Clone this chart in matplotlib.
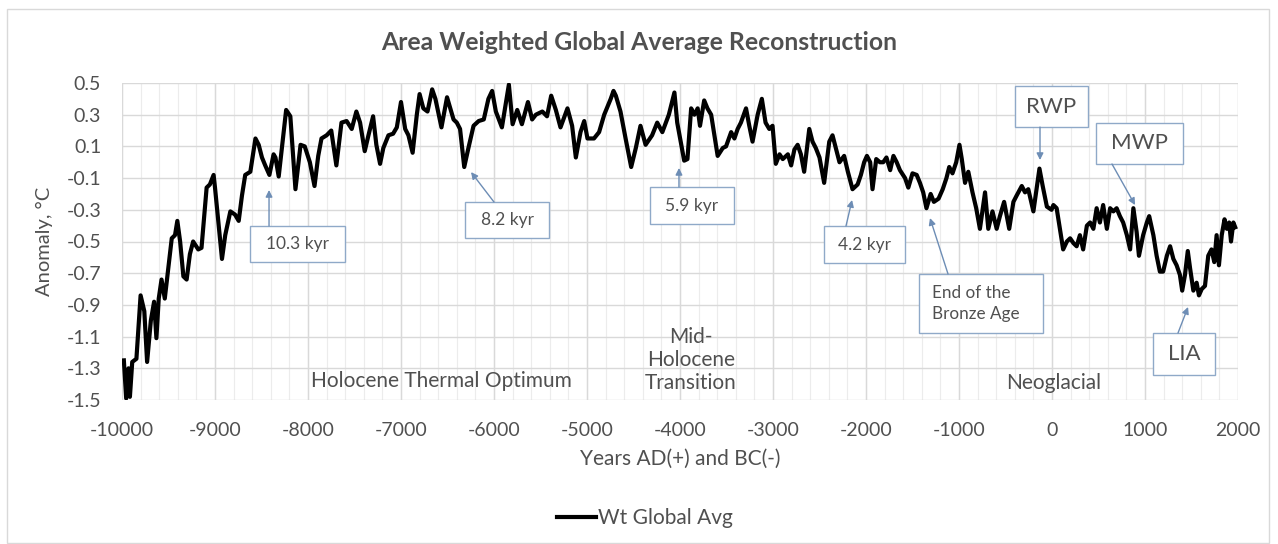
import matplotlib
matplotlib.use("Agg")
import matplotlib.pyplot as plt
import matplotlib.patches as mpatches

# ---- data ----
years = [
    -9980, -9955, -9930, -9915, -9890, -9845, -9800, -9760, -9730, -9690,
    -9655, -9630, -9605, -9575, -9540, -9465, -9430, -9405, -9375, -9340,
    -9305, -9270, -9235, -9180, -9145, -9090, -9055, -9015, -9000, -8965,
    -8925, -8890, -8835, -8785, -8745, -8710, -8675, -8620, -8565, -8530,
    -8495, -8460, -8415, -8370, -8350, -8315, -8235, -8190, -8135, -8080,
    -8035, -7980, -7930, -7890, -7855, -7800, -7750, -7695, -7640, -7585,
    -7530, -7480, -7440, -7390, -7350, -7300, -7265, -7225, -7190, -7135,
    -7085, -7045, -7000, -6955, -6920, -6875, -6830, -6800, -6760, -6715,
    -6665, -6630, -6565, -6505, -6470, -6435, -6400, -6365, -6320, -6275,
    -6220, -6165, -6110, -6060, -6020, -5980, -5915, -5840, -5800, -5750,
    -5700, -5635, -5590, -5550, -5480, -5430, -5385, -5335, -5285, -5210,
    -5160, -5120, -5070, -5030, -4995, -4925, -4870, -4815, -4745, -4715,
    -4690, -4640, -4585, -4525, -4475, -4425, -4370, -4300, -4245, -4190,
    -4120, -4060, -4030, -3990, -3955, -3920, -3880, -3845, -3810, -3785,
    -3740, -3705, -3665, -3630, -3595, -3540, -3505, -3450, -3415, -3380,
    -3345, -3290, -3255, -3220, -3165, -3120, -3080, -3040, -3005, -2970,
    -2930, -2895, -2840, -2805, -2770, -2735, -2700, -2665, -2610, -2575,
    -2540, -2500, -2450, -2395, -2360, -2325, -2285, -2235, -2195, -2145,
    -2090, -2055, -2020, -1990, -1955, -1930, -1890, -1850, -1815, -1780,
    -1740, -1705, -1670, -1635, -1580, -1545, -1500, -1455, -1420, -1385,
    -1350, -1305, -1270, -1220, -1175, -1135, -1105, -1070, -1030, -995,
    -970, -935, -900, -855, -815, -775, -720, -685, -640, -595,
    -560, -515, -460, -415, -380, -325, -290, -255, -200, -135,
    -100, -55, -5, 15, 50, 85, 120, 160, 195, 230,
    265, 300, 335, 375, 410, 445, 480, 515, 550, 590,
    625, 660, 695, 730, 765, 805, 840, 875, 910, 935,
    980, 1020, 1045, 1090, 1125, 1160, 1195, 1235, 1270, 1305,
    1340, 1375, 1400, 1430, 1460, 1485, 1520, 1555, 1580, 1610,
    1645, 1680, 1715, 1745, 1770, 1795, 1825, 1855, 1880, 1905,
    1925, 1950, 1970,
]
anomaly = [
    -1.25, -1.49, -1.30, -1.48, -1.26, -1.24, -0.84, -0.94, -1.26, -1.00,
    -0.88, -1.11, -0.86, -0.74, -0.86, -0.48, -0.46, -0.37, -0.50, -0.72,
    -0.74, -0.58, -0.50, -0.55, -0.54, -0.16, -0.14, -0.08, -0.16, -0.37,
    -0.61, -0.46, -0.31, -0.33, -0.37, -0.21, -0.08, -0.06, 0.15, 0.11,
    0.03, -0.02, -0.08, 0.05, 0.03, -0.09, 0.33, 0.29, -0.17, 0.11,
    0.10, 0.00, -0.15, 0.04, 0.15, 0.17, 0.20, -0.02, 0.25, 0.26,
    0.21, 0.32, 0.25, 0.07, 0.17, 0.29, 0.11, -0.01, 0.09, 0.17,
    0.18, 0.22, 0.38, 0.21, 0.17, 0.06, 0.30, 0.43, 0.34, 0.32,
    0.46, 0.40, 0.22, 0.41, 0.34, 0.27, 0.25, 0.21, -0.03, 0.09,
    0.23, 0.26, 0.27, 0.40, 0.45, 0.32, 0.22, 0.49, 0.24, 0.33,
    0.24, 0.38, 0.27, 0.30, 0.32, 0.29, 0.42, 0.33, 0.22, 0.34,
    0.23, 0.03, 0.19, 0.26, 0.15, 0.15, 0.19, 0.30, 0.40, 0.45,
    0.42, 0.32, 0.15, -0.03, 0.09, 0.23, 0.11, 0.17, 0.25, 0.19,
    0.30, 0.44, 0.25, 0.12, 0.01, 0.02, 0.34, 0.30, 0.34, 0.23,
    0.39, 0.34, 0.30, 0.17, 0.04, 0.09, 0.10, 0.19, 0.15, 0.21,
    0.25, 0.34, 0.23, 0.13, 0.30, 0.40, 0.25, 0.21, 0.23, -0.01,
    0.05, 0.02, 0.05, -0.02, 0.08, 0.11, 0.05, -0.06, 0.21, 0.13,
    0.09, 0.03, -0.13, 0.13, 0.17, 0.09, 0.00, 0.04, -0.06, -0.17,
    -0.14, -0.08, 0.00, 0.04, 0.00, -0.17, 0.02, 0.00, 0.00, 0.03,
    -0.05, 0.04, 0.00, -0.05, -0.10, -0.16, -0.07, -0.08, -0.13, -0.19,
    -0.29, -0.20, -0.25, -0.23, -0.17, -0.10, -0.03, -0.07, 0.00, 0.11,
    0.02, -0.13, -0.06, -0.19, -0.29, -0.42, -0.19, -0.42, -0.31, -0.42,
    -0.34, -0.25, -0.42, -0.25, -0.21, -0.15, -0.19, -0.17, -0.31, -0.04,
    -0.15, -0.28, -0.30, -0.27, -0.29, -0.42, -0.55, -0.50, -0.48, -0.51,
    -0.53, -0.46, -0.55, -0.40, -0.38, -0.42, -0.29, -0.38, -0.27, -0.42,
    -0.29, -0.31, -0.29, -0.34, -0.38, -0.46, -0.55, -0.29, -0.44, -0.59,
    -0.46, -0.38, -0.34, -0.46, -0.59, -0.69, -0.69, -0.59, -0.53, -0.61,
    -0.65, -0.71, -0.81, -0.71, -0.56, -0.67, -0.81, -0.76, -0.84, -0.80,
    -0.78, -0.59, -0.55, -0.63, -0.46, -0.65, -0.46, -0.36, -0.42, -0.38,
    -0.50, -0.38, -0.41,
]

x_ticks = list(range(-10000, 2001, 1000))
y_ticks = [0.5, 0.3, 0.1, -0.1, -0.3, -0.5, -0.7, -0.9, -1.1, -1.3, -1.5]

# event call-outs: label, box (x0, x1, y0, y1), arrow start, arrow tip, font size
callouts = [
    ("10.3 kyr", (-8624, -7602, -0.629, -0.402), (-8419, -0.402), (-8419, -0.175), 12.5),
    ("8.2 kyr", (-6312, -5408, -0.478, -0.251), (-6000, -0.251), (-6247, -0.062), 12.5),
    ("5.9 kyr", (-4322, -3419, -0.390, -0.156), (-4011, -0.156), (-4011, -0.036), 12.5),
    ("4.2 kyr", (-2451, -1580, -0.636, -0.402), (-2215, -0.402), (-2150, -0.238), 12.5),
    ("RWP", (-397, 387, 0.222, 0.481), (-129, 0.222), (-129, 0.014), 16),
    ("MWP", (473, 1409, -0.011, 0.248), (645, -0.011), (893, -0.270), 16),
    ("LIA", (1086, 1753, -1.342, -1.077), (1355, -1.077), (1463, -0.913), 16),
]
bronze_box = (-1430, -97, -1.077, -0.705)

TXT = '#505050'
GRID = '#d9d9d9'
BOX = '#8fa9c8'
ARROW = '#6d8db5'

plt.rcParams['font.family'] = ['Lato', 'DejaVu Sans']

fig = plt.figure(figsize=(12.78, 5.44), dpi=100)
fig.patch.set_facecolor('white')
fig.patches.append(mpatches.Rectangle((7 / 1278, 1 / 544), 1262 / 1278, 534 / 544,
                                      transform=fig.transFigure, fill=False,
                                      edgecolor=GRID, linewidth=1.0))

ax = fig.add_axes([122 / 1278, 1 - 400 / 544, 1116 / 1278, 317 / 544])
ax.set_xlim(-10000, 2000)
ax.set_ylim(-1.5, 0.5)

# gridlines
for xm in range(-10000, 2001, 200):
    ax.axvline(xm, color='#ececec', linewidth=0.8, zorder=0)
for xm in x_ticks:
    ax.axvline(xm, color=GRID, linewidth=1.0, zorder=0)
for ym in y_ticks:
    ax.axhline(ym, color=GRID, linewidth=1.0, zorder=0)

ax.plot(years, anomaly, color='black', linewidth=3.0, solid_joinstyle='round',
        zorder=5, label='Wt Global Avg')

for s in ax.spines.values():
    s.set_visible(False)
ax.set_xticks(x_ticks)
ax.set_xticklabels([str(v) for v in x_ticks])
ax.set_yticks(y_ticks)
ax.set_yticklabels([f"{v:.1f}" for v in y_ticks])
ax.tick_params(length=0, labelsize=14, labelcolor=TXT)
ax.tick_params(axis='x', pad=16)
ax.tick_params(axis='y', pad=15)
ax.set_xlabel('Years AD(+) and BC(-)', fontsize=15, color=TXT, labelpad=7)
ax.set_ylabel('Anomaly, °C', fontsize=14.5, color=TXT, labelpad=10)

fig.text(0.5, 1 - 43 / 544, 'Area Weighted Global Average Reconstruction',
         ha='center', va='center', fontsize=17.8, fontweight='bold', color=TXT)

# call-out boxes and arrows
for label, (x0, x1, y0, y1), start, tip, fs in callouts:
    ax.add_patch(mpatches.Rectangle((x0, y0), x1 - x0, y1 - y0, facecolor='white',
                                    edgecolor=BOX, linewidth=1.0, zorder=6))
    ax.text((x0 + x1) / 2, (y0 + y1) / 2, label, ha='center', va='center',
            fontsize=fs, color=TXT, zorder=7)
    ax.annotate('', xy=tip, xytext=start,
                arrowprops=dict(arrowstyle='-|>', color=ARROW, lw=1.0,
                                mutation_scale=10, shrinkA=0, shrinkB=0),
                zorder=7)

bx0, bx1, by0, by1 = bronze_box
ax.add_patch(mpatches.Rectangle((bx0, by0), bx1 - bx0, by1 - by0, facecolor='white',
                                edgecolor=BOX, linewidth=1.0, zorder=6))
ax.text(bx0 + 140, (by0 + by1) / 2, 'End of the\nBronze Age', ha='left', va='center',
        fontsize=12.3, color=TXT, linespacing=1.45, zorder=7)
ax.annotate('', xy=(-1312, -0.352), xytext=(-1118, -0.705),
            arrowprops=dict(arrowstyle='-|>', color=ARROW, lw=1.0,
                            mutation_scale=10, shrinkA=0, shrinkB=0),
            zorder=7)

# period labels
ax.text(-6570, -1.38, 'Holocene Thermal Optimum', ha='center', va='center',
        fontsize=15, color=TXT)
ax.text(-3881, -1.248, 'Mid-\nHolocene\nTransition', ha='center', va='center',
        fontsize=15, color=TXT, linespacing=1.2)
ax.text(22, -1.393, 'Neoglacial', ha='center', va='center', fontsize=15, color=TXT)

fig.legend(loc='center', bbox_to_anchor=(645 / 1278, 1 - 518 / 544), frameon=False,
           fontsize=15, labelcolor=TXT, handlelength=1.9, handletextpad=0.1)

fig.savefig('out.png', dpi=100, facecolor=fig.get_facecolor())
